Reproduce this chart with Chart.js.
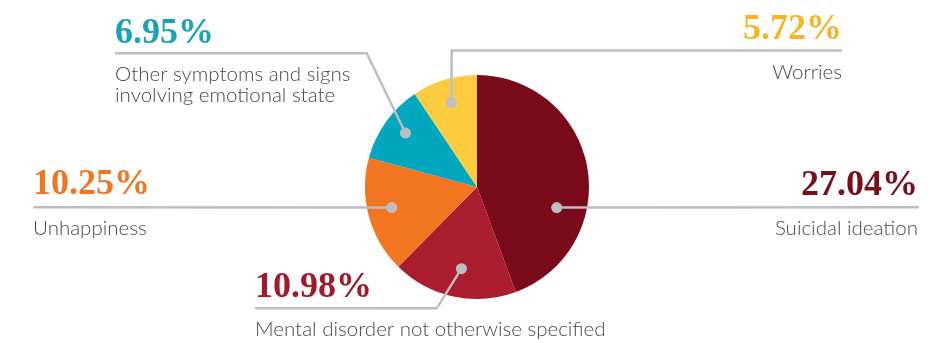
<!DOCTYPE html>
<html>
<head>
<meta charset="utf-8">
<script src="https://cdn.jsdelivr.net/npm/chart.js@4.4.1/dist/chart.umd.min.js"></script>
<style>
  html, body { margin: 0; padding: 0; background: #ffffff; }
  #wrap { width: 937px; height: 343px; }
</style>
</head>
<body>
<div id="wrap"><canvas id="c" width="937" height="343"></canvas></div>
<script>
// ---- Data ----
const categories = [
  "Suicidal ideation",
  "Mental disorder not otherwise specified",
  "Unhappiness",
  "Other symptoms and signs involving emotional state",
  "Worries"
];
const values = [27.04, 10.98, 10.25, 6.95, 5.72];
const labelLines = [
  ["Suicidal ideation"],
  ["Mental disorder not otherwise specified"],
  ["Unhappiness"],
  ["Other symptoms and signs", "involving emotional state"],
  ["Worries"]
];

// ---- Styles ----
const sliceColors = ["#7A0A19", "#A91D2F", "#F37521", "#00A7BE", "#FFCB3F"];
const pctColors   = ["#7A0E1A", "#A3192B", "#F07622", "#17A3B8", "#F6B526"];
const leaderColor = "#BDBEC2";
const labelColor  = "#48484A";

// ---- Callout layout (dot offset as fraction of radius; path points; text anchors) ----
const calloutLayout = [
  { dot: [0.712, 0.184],  path: [[919, 207.3]],                 align: "right", x: 918, pctY: 195,  labY: 235 },
  { dot: [-0.139, 0.729], path: [[436.7, 308.3], [255, 308.3]], align: "left",  x: 255, pctY: 297,  labY: 336 },
  { dot: [-0.762, 0.184], path: [[33, 207.3]],                  align: "left",  x: 33,  pctY: 194,  labY: 235 },
  { dot: [-0.639, -0.482],path: [[366.7, 53.3], [115, 53.3]],   align: "left",  x: 115, pctY: 42.7, labY: 81 },
  { dot: [-0.229, -0.756],path: [[451.7, 50.5], [842, 50.5]],   align: "right", x: 842, pctY: 39,   labY: 79 }
];

const calloutPlugin = {
  id: "callouts",
  afterDraw(chart) {
    const ctx = chart.ctx;
    const meta = chart.getDatasetMeta(0);
    ctx.save();
    meta.data.forEach((arc, i) => {
      const L = calloutLayout[i];
      const r = arc.outerRadius;
      const dx = arc.x + L.dot[0] * r;
      const dy = arc.y + L.dot[1] * r;
      // leader line
      ctx.beginPath();
      ctx.moveTo(dx, dy);
      L.path.forEach(p => ctx.lineTo(p[0], p[1]));
      ctx.strokeStyle = leaderColor;
      ctx.lineWidth = 2.5;
      ctx.lineJoin = "miter";
      ctx.stroke();
      // dot
      ctx.beginPath();
      ctx.arc(dx, dy, 5.5, 0, Math.PI * 2);
      ctx.fillStyle = leaderColor;
      ctx.fill();
      // percentage
      ctx.textAlign = L.align;
      ctx.textBaseline = "alphabetic";
      ctx.font = "bold 36px 'Liberation Serif', serif";
      ctx.fillStyle = pctColors[i];
      ctx.fillText(values[i].toFixed(2) + "%", L.x, L.pctY);
      // category label
      ctx.font = "300 20.5px Lato, 'Open Sans', sans-serif";
      ctx.fillStyle = labelColor;
      labelLines[i].forEach((t, k) => ctx.fillText(t, L.x, L.labY + k * 20.7));
    });
    ctx.restore();
  }
};

new Chart(document.getElementById("c"), {
  type: "pie",
  data: {
    labels: categories,
    datasets: [{
      data: values,
      backgroundColor: sliceColors,
      borderWidth: 0
    }]
  },
  options: {
    responsive: false,
    animation: false,
    layout: { padding: { top: 75, bottom: 44, left: 300, right: 283 } },
    plugins: { legend: { display: false }, tooltip: { enabled: false } }
  },
  plugins: [calloutPlugin]
});
</script>
</body>
</html>
